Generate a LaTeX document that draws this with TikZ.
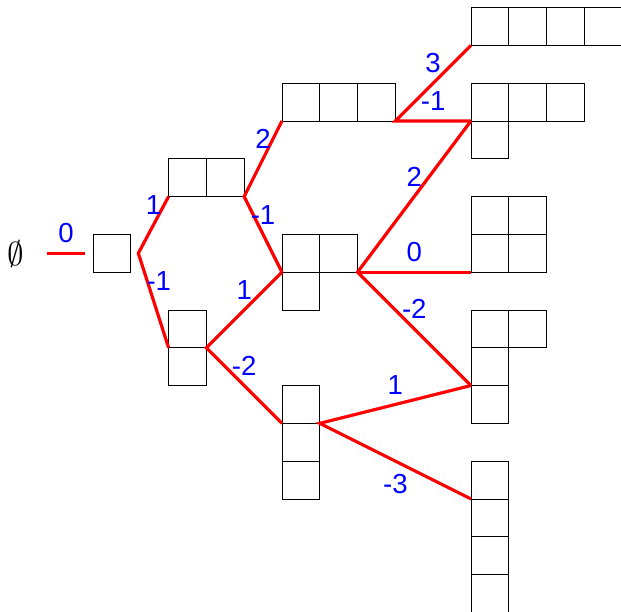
\documentclass[tikz,border=0pt]{standalone}
\usepackage{fontspec}
\setsansfont{Liberation Sans}
\usepackage{tikz}

\begin{document}
\begin{tikzpicture}[
    cell/.style={minimum size=1cm, draw=black, line width=0.5pt, inner sep=0pt, outer sep=0pt, anchor=center},
    edge/.style={draw=red, line width=2.4pt},
    lab/.style={midway, text=blue, font=\sffamily\huge}
]
\useasboundingbox (-2.46,-8.98) rectangle (13.97,7.2);
\node[font=\Huge] (emp) at (-2.03,0.48) {$\emptyset$};
\coordinate (z0) at (-1.22,0.5);
\node[cell] (a1) at (0.5,0.5) {};
\node[cell] (b1) at (2.5,2.5) {};
\node[cell] (b2) at (3.5,2.5) {};
\node[cell] (c1) at (2.5,-1.5) {};
\node[cell] (c2) at (2.5,-2.5) {};
\node[cell] (d1) at (5.5,4.5) {};
\node[cell] (d2) at (6.5,4.5) {};
\node[cell] (d3) at (7.5,4.5) {};
\node[cell] (e1) at (5.5,0.5) {};
\node[cell] (e2) at (6.5,0.5) {};
\node[cell] (e3) at (5.5,-0.5) {};
\node[cell] (f1) at (5.5,-3.5) {};
\node[cell] (f2) at (5.5,-4.5) {};
\node[cell] (f3) at (5.5,-5.5) {};
\node[cell] (g1) at (10.5,6.5) {};
\node[cell] (g2) at (11.5,6.5) {};
\node[cell] (g3) at (12.5,6.5) {};
\node[cell] (g4) at (13.5,6.5) {};
\node[cell] (h1) at (10.5,4.5) {};
\node[cell] (h2) at (11.5,4.5) {};
\node[cell] (h3) at (12.5,4.5) {};
\node[cell] (h4) at (10.5,3.5) {};
\node[cell] (i1) at (10.5,1.5) {};
\node[cell] (i2) at (11.5,1.5) {};
\node[cell] (i3) at (10.5,0.5) {};
\node[cell] (i4) at (11.5,0.5) {};
\node[cell] (j1) at (10.5,-1.5) {};
\node[cell] (j2) at (11.5,-1.5) {};
\node[cell] (j3) at (10.5,-2.5) {};
\node[cell] (j4) at (10.5,-3.5) {};
\node[cell] (k1) at (10.5,-5.5) {};
\node[cell] (k2) at (10.5,-6.5) {};
\node[cell] (k3) at (10.5,-7.5) {};
\node[cell] (k4) at (10.5,-8.5) {};
\draw[edge] (z0) -- node[lab, above=3pt] {0} ([xshift=-2mm]a1.west);
\draw[edge] (b1.south west) -- node[lab, above=3pt] {1} ([xshift=2mm]a1.east) -- node[lab, above=3pt, xshift=4pt] {-1} (c1.south west);
\draw[edge] (d1.south west) -- node[lab, above=3pt] {2} (b2.south east) -- node[lab, above=3pt] {-1} (e1.south west);
\draw[edge] (e1.south west) -- node[lab, above=3pt] {1} (c1.south east) -- node[lab, above=3pt] {-2} (f1.south west);
\draw[edge] (g1.south west) -- node[lab, above=3pt] {3} (d3.south east) -- node[lab, above=3pt] {-1} (h1.south west);
\draw[edge] (h1.south west) -- node[lab, above=3pt] {2} (e2.south east) -- node[lab, above=3pt] {-2} (j3.south west);
\draw[edge] (e2.south east) -- node[lab, above=3pt] {0} (i3.south west);
\draw[edge] (j3.south west) -- node[lab, above=3pt] {1} (f1.south east) -- node[lab, below=5pt] {-3} (k1.south west);
\end{tikzpicture}
\end{document}
